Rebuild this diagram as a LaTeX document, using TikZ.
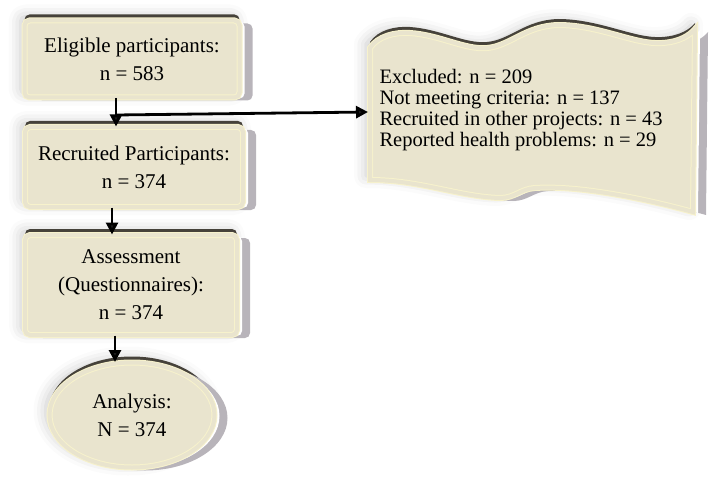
\documentclass[tikz,border=0pt]{standalone}
\usepackage{fontspec}
\setmainfont{Liberation Serif}
\usetikzlibrary{arrows.meta,shapes.geometric,shadows.blur}

\definecolor{panelface}{RGB}{233,228,206}
\definecolor{panelrim}{RGB}{247,242,204}
\definecolor{panelside}{RGB}{184,180,186}
\definecolor{paneledge}{RGB}{70,66,58}

\tikzset{
    >={Triangle[length=12pt,width=12pt]},
    arr/.style={->, line width=2.8pt},
    faceopts/.style={fill=panelface, draw=panelrim, double=panelface, double distance=4pt, line width=1pt,
        blur shadow={shadow xshift=-4pt, shadow yshift=4pt, shadow blur radius=12pt, shadow opacity=22},
        preaction={fill=paneledge, draw=none, transform canvas={yshift=6pt}},
        preaction={fill=panelside, draw=none, transform canvas={xshift=13pt, yshift=-3pt}},
        preaction={fill=white, draw=none, transform canvas={xshift=5pt, yshift=-1pt}}},
    panel/.style={faceopts, rectangle, rounded corners=5pt, align=center, font=\fontsize{21}{28}\selectfont},
    oval/.style={faceopts, ellipse, align=center, font=\fontsize{21}{28}\selectfont},
    wave outline/.style={insert path={(370,48) .. controls (378,36) and (395,32) .. (410,33)
        .. controls (440,35) and (465,50) .. (487,48) .. controls (510,46) and (525,26) .. (558,25)
        .. controls (600,25) and (635,45) .. (662,43) .. controls (680,42) and (690,35) .. (695,29)
        -- (693,212) .. controls (650,200) and (580,185) .. (535,188)
        .. controls (520,189) and (515,198) .. (500,198) .. controls (460,197) and (420,180) .. (370,180) -- cycle}}
}

\begin{document}
\begin{tikzpicture}[x=1pt, y=-1pt]
    \useasboundingbox (0,0) rectangle (709,484);

    % flow boxes
    \node[panel, minimum width=215pt, minimum height=77pt] (elig) at (132,59) {Eligible participants:\\n = 583};
    \node[panel, minimum width=218pt, minimum height=80pt] (recr) at (134,167) {Recruited Participants:\\n = 374};
    \node[panel, minimum width=212pt, minimum height=100pt] (assess) at (131,285) {Assessment\\(Questionnaires):\\n = 374};
    \node[oval, minimum width=165pt, minimum height=105pt] (analysis) at (132,415) {Analysis:\\N = 374};

    % excluded banner
    \path[faceopts, wave outline];
    \node[anchor=west, align=left, font=\fontsize{20.5}{21}\selectfont] (excl) at (376,110)
        {Excluded: n = 209\\Not meeting criteria: n = 137\\Recruited in other projects: n = 43\\Reported health problems: n = 29};

    \coordinate (split) at (116,115);
    \coordinate (wavein) at (368,112);

    \draw[arr] ([xshift=-16pt]elig.south) -- ([xshift=-18pt]recr.north);
    \draw[arr] (split) -- (wavein);
    \draw[arr] ([xshift=-22pt]recr.south) -- ([xshift=-19pt]assess.north);
    \draw[arr] ([xshift=-16pt]assess.south) -- ([xshift=-17pt]analysis.north);
\end{tikzpicture}
\end{document}
